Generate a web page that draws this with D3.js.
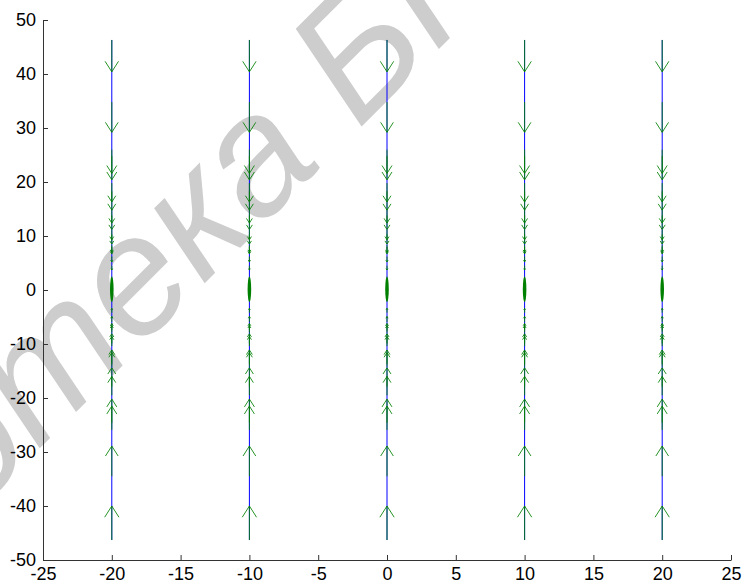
<!DOCTYPE html>
<html>
<head>
<meta charset="utf-8">
<script src="https://cdn.jsdelivr.net/npm/d3@7"></script>
<style>
  body { margin: 0; background: #fff; }
  svg { display: block; }
</style>
</head>
<body>
<div id="chart"></div>
<script>
// columns where trajectories run
const columns = [-20, -10, 0, 10, 20];
// trajectory ends (y)
const trajY = [-46.3, 46.3];
// downward arrows (upper half): tail and tip y
const downTail = [46.3, 34.8, 26.0, 24.8, 19.8, 18.3, 15.0, 13.8, 11.1, 10.3, 8.3, 8.0, 6.2, 4.5];
const downTip  = [40.4, 29.2, 21.6, 20.4, 16.3, 14.8, 12.4, 11.2, 9.3, 8.5, 7.0, 6.7, 5.2, 3.7];
// upward arrows (lower half)
const upTail = [-46.3, -34.5, -25.9, -24.6, -19.5, -17.9, -14.2, -13.7, -10.4, -9.9, -7.9, -7.5, -5.9, -4.2];
const upTip  = [-40.0, -28.9, -21.5, -20.2, -16.0, -14.4, -11.6, -11.1, -8.6, -8.1, -6.6, -6.2, -4.9, -3.4];
// cluster of tiny arrows around the origin
const blobY = [-2.2, 2.5];

const xTicks = [-25, -20, -15, -10, -5, 0, 5, 10, 15, 20, 25];
const yTicks = [-50, -40, -30, -20, -10, 0, 10, 20, 30, 40, 50];

const width = 746, height = 584;

const svg = d3.select("#chart")
    .append("svg")
    .attr("width", width)
    .attr("height", height);

// watermark
const wm = svg.append("text")
    .attr("font-family", "'Liberation Sans', Arial, sans-serif")
    .attr("font-style", "italic")
    .attr("font-size", 168)
    .attr("fill", "#cdcdcd")
    .text("Библиотека БГУИР");
const bx = wm.node().getStartPositionOfChar(11).x;
wm.attr("x", -bx)
  .attr("transform", "translate(358,130) rotate(-45)");

const x = d3.scaleLinear().domain([-25, 25]).range([43, 731]);
const y = d3.scaleLinear().domain([-50, 50]).range([560, 20]);

// blue trajectories
svg.selectAll("line.traj")
    .data(columns)
    .enter()
    .append("line")
    .attr("class", "traj")
    .attr("x1", d => x(d))
    .attr("x2", d => x(d))
    .attr("y1", y(trajY[0]))
    .attr("y2", y(trajY[1]))
    .attr("stroke", "#0000ff")
    .attr("stroke-width", 1);

// arrows
const arrows = [];
columns.forEach(c => {
    downTail.forEach((t, i) => arrows.push({ c: c, t: t, h: downTip[i] }));
    upTail.forEach((t, i) => arrows.push({ c: c, t: t, h: upTip[i] }));
});

function arrowPath(d) {
    const L = d.h - d.t;
    const hb = d.h - 0.33 * L;
    const hw = 0.0825 * Math.abs(L);
    return "M" + x(d.c) + "," + y(d.t) + "L" + x(d.c) + "," + y(d.h) +
        "M" + x(d.c - hw) + "," + y(hb) + "L" + x(d.c) + "," + y(d.h) +
        "L" + x(d.c + hw) + "," + y(hb);
}

svg.selectAll("path.arrow")
    .data(arrows)
    .enter()
    .append("path")
    .attr("class", "arrow")
    .attr("d", arrowPath)
    .attr("fill", "none")
    .attr("stroke", "#008000")
    .attr("stroke-opacity", 0.85)
    .attr("stroke-width", 1);

// the crowded tiny arrows near zero
svg.selectAll("ellipse.blob")
    .data(columns)
    .enter()
    .append("ellipse")
    .attr("class", "blob")
    .attr("cx", d => x(d))
    .attr("cy", y((blobY[0] + blobY[1]) / 2))
    .attr("rx", x(0.13) - x(0))
    .attr("ry", (y(blobY[0]) - y(blobY[1])) / 2)
    .attr("fill", "#008000");

// axes
const axisY = d3.axisLeft(y)
    .tickValues(yTicks)
    .tickFormat(d => String(d))
    .tickSizeInner(-5)
    .tickSizeOuter(0)
    .tickPadding(7);

const axisX = d3.axisBottom(x)
    .tickValues(xTicks)
    .tickFormat(d => String(d))
    .tickSizeInner(-5)
    .tickSizeOuter(0)
    .tickPadding(7);

const gy = svg.append("g")
    .attr("transform", `translate(${x(-25)},0)`)
    .call(axisY);

const gx = svg.append("g")
    .attr("transform", `translate(0,${y(-50)})`)
    .call(axisX);

[gx, gy].forEach(g => {
    g.selectAll("text")
        .attr("font-family", "'Liberation Sans', Arial, sans-serif")
        .attr("font-size", 18)
        .attr("fill", "#000");
    g.selectAll("line, path").attr("stroke", "#333");
});
</script>
</body>
</html>
